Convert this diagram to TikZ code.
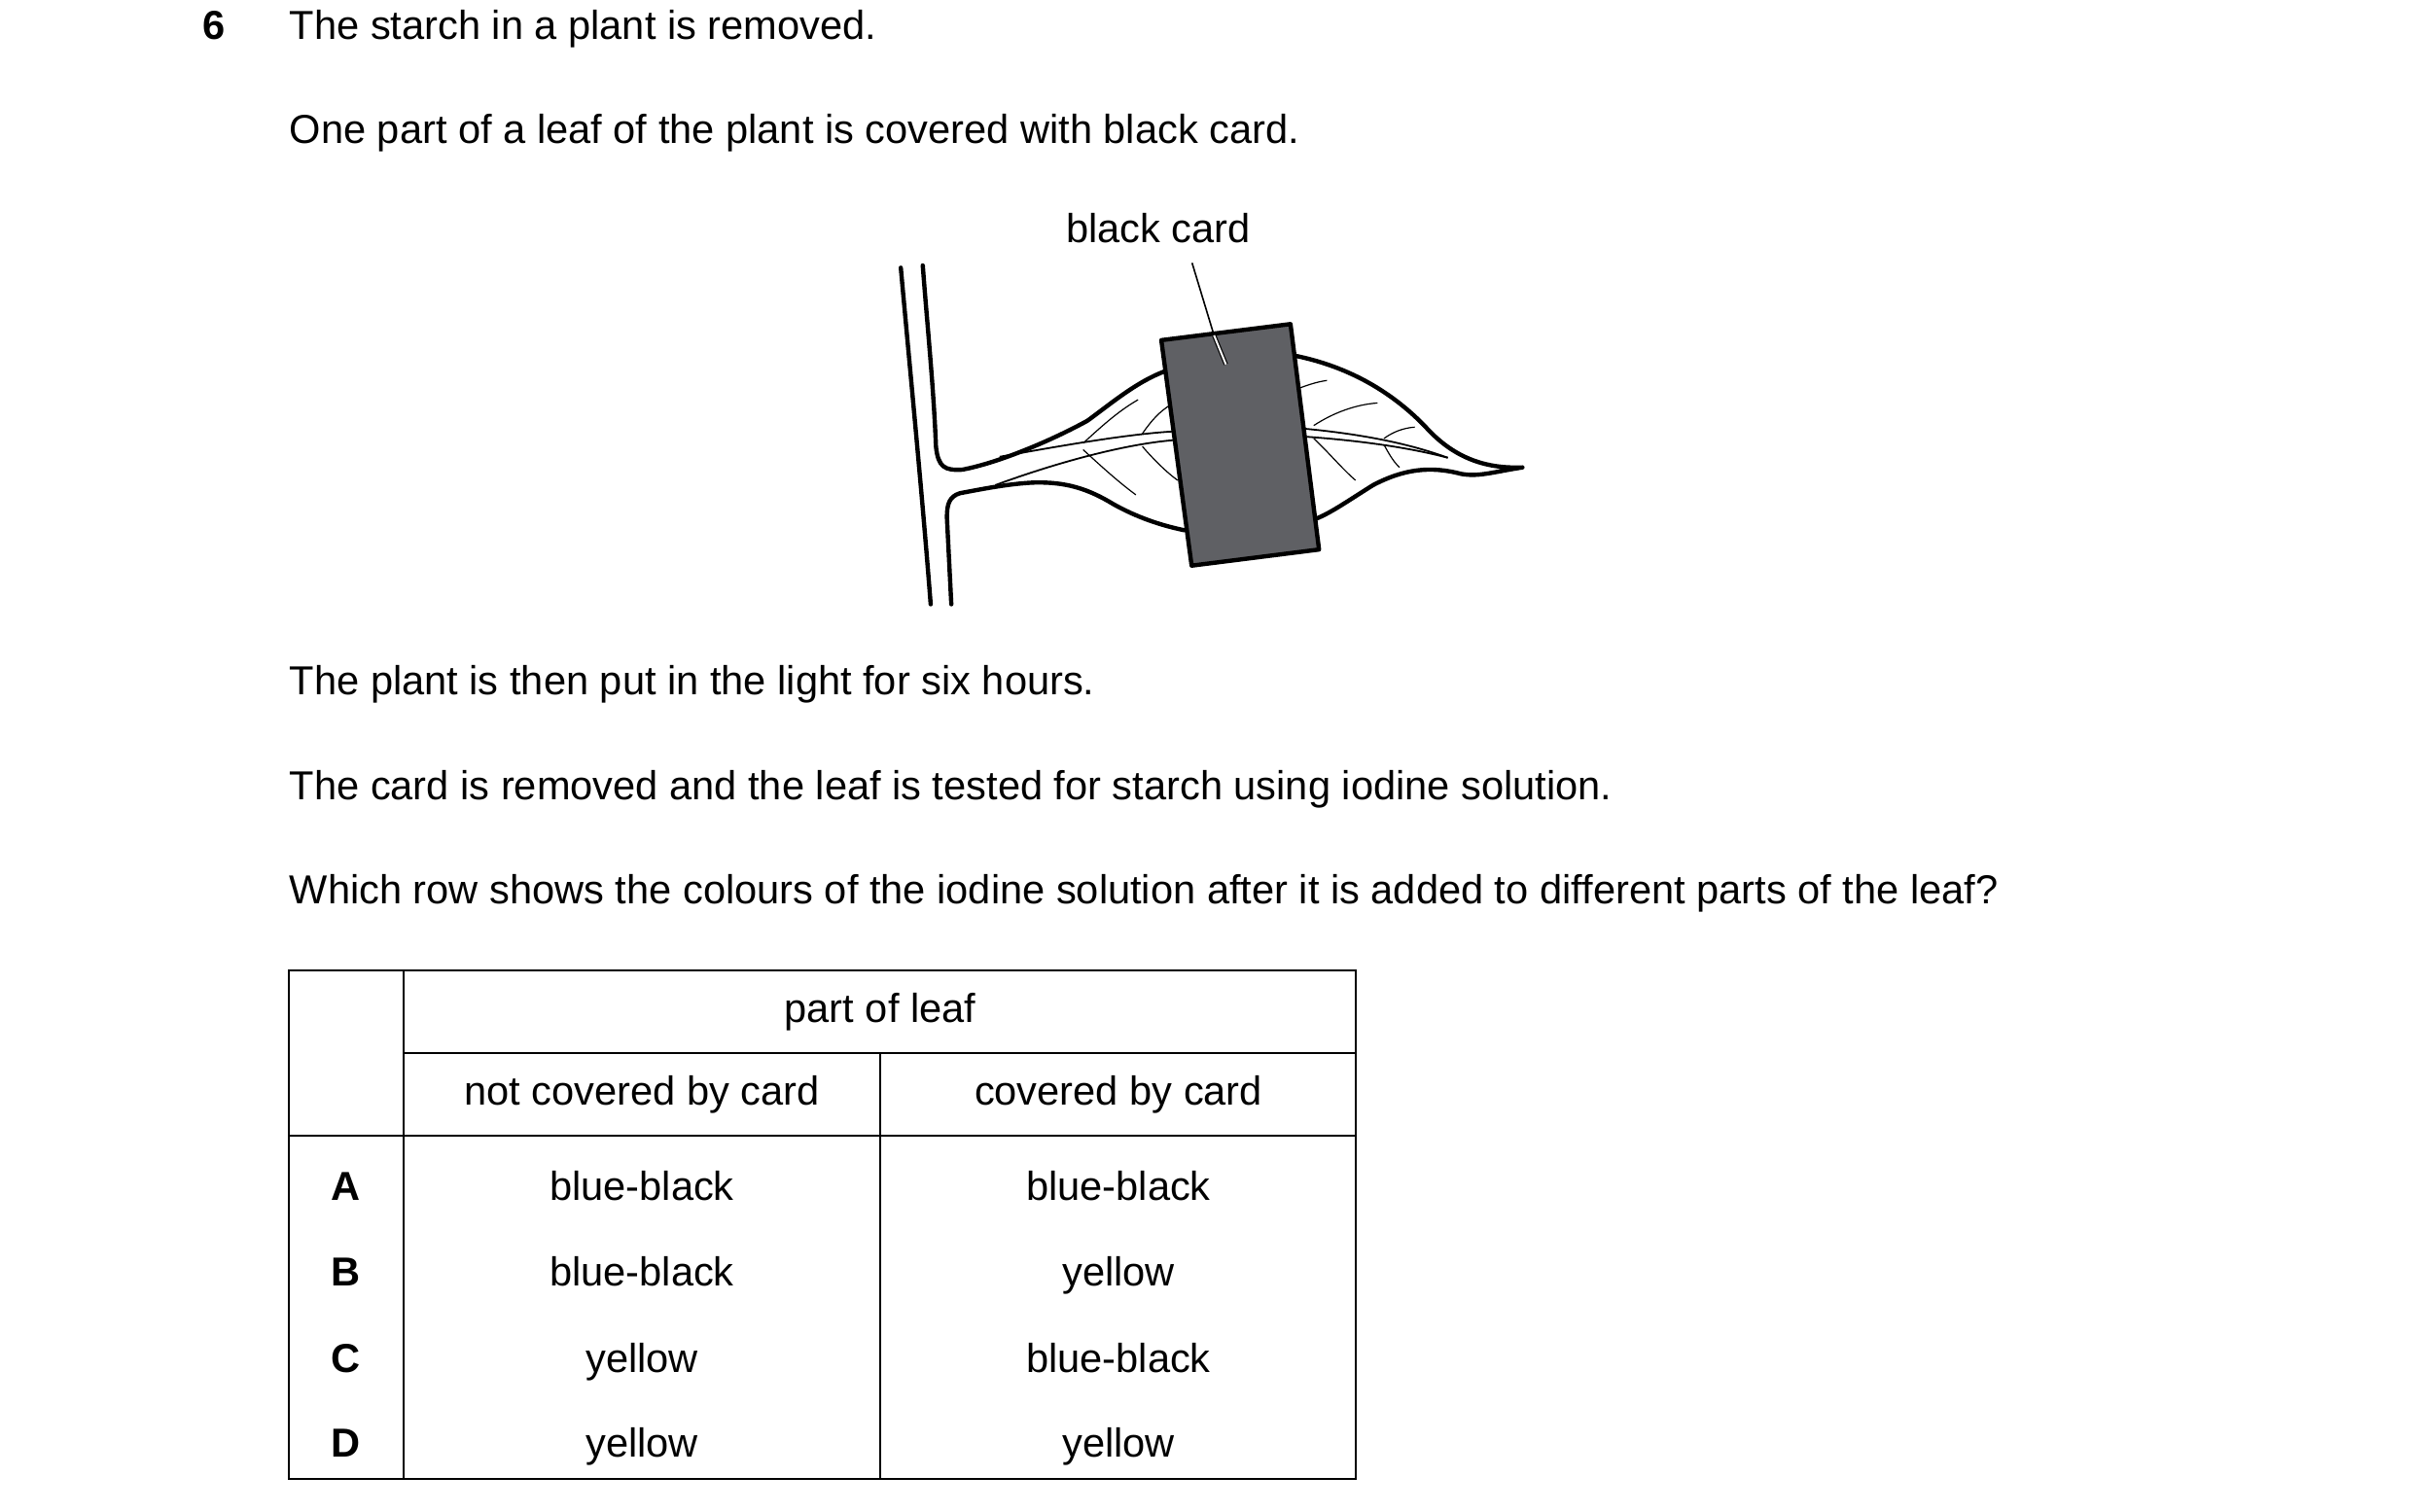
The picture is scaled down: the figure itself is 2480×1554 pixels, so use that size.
\documentclass[tikz,border=0pt]{standalone}
\usepackage{fontspec}
\setmainfont{Liberation Sans}
\begin{document}
\begin{tikzpicture}[x=0.25pt,y=-0.25pt,
  txt/.style={anchor=base west,inner sep=0,font=\fontsize{10.4}{12}\selectfont},
  ctr/.style={anchor=base,inner sep=0,font=\fontsize{10.4}{12}\selectfont},
  bd/.style={line width=1.1pt,line cap=round,line join=round},
  vein/.style={line width=0.3pt},
  rib/.style={line width=0.45pt},
  grid/.style={line width=0.6pt}]
\useasboundingbox (0,0) rectangle (2480,1554);
\node[txt,font=\fontsize{10.4}{12}\selectfont\bfseries] (num) at (208,40) {6};
\node[txt] (t1) at (297,40) {The starch in a plant is removed.};
\node[txt] (t2) at (297,147) {One part of a leaf of the plant is covered with black card.};
\node[ctr] (lab) at (1191,249) {black card};
\node[txt] (t3) at (297,714) {The plant is then put in the light for six hours.};
\node[txt] (t4) at (297,822) {The card is removed and the leaf is tested for starch using iodine solution.};
\node[txt] (t5) at (297,929) {Which row shows the colours of the iodine solution after it is added to different parts of the leaf?};
% leaf
\begin{scope}[shift={(892.3,233.9)},xscale=0.4517,yscale=0.33125]
\draw[bd] (75,125) .. controls (100,500) and (125,850) .. (143,1170);
\draw[bd] (125,118) .. controls (135,300) and (150,500) .. (155,680) .. controls (160,745) and (175,755) .. (215,752)
  .. controls (300,730) and (420,660) .. (500,600) .. controls (560,540) and (620,470) .. (690,440)
  -- (960,395) .. controls (1100,430) and (1200,520) .. (1270,620) .. controls (1330,710) and (1400,750) .. (1490,745)
  .. controls (1420,760) and (1390,775) .. (1350,765) .. controls (1280,740) and (1220,750) .. (1150,800)
  .. controls (1080,860) and (1050,890) .. (1010,910) -- (720,940) .. controls (650,920) and (600,890) .. (560,860)
  .. controls (500,810) and (450,790) .. (380,792) .. controls (320,795) and (250,815) .. (210,825)
  .. controls (185,835) and (180,860) .. (180,900) -- (190,1170);
\draw[rib] (300,712) .. controls (450,675) and (600,640) .. (700,633) -- (995,625) .. controls (1150,645) and (1250,680) .. (1320,715);
\draw[rib] (290,800) .. controls (450,720) and (600,670) .. (700,660) -- (1000,650) .. controls (1150,665) and (1250,690) .. (1320,715);
\draw[vein] (490,670) .. controls (530,620) and (570,570) .. (615,535);
\draw[vein] (490,690) .. controls (530,740) and (570,790) .. (610,830);
\draw[vein] (625,640) .. controls (645,600) and (665,570) .. (690,550);
\draw[vein] (625,680) .. controls (650,720) and (680,760) .. (705,785);
\draw[vein] (980,500) .. controls (1000,490) and (1020,480) .. (1045,475);
\draw[vein] (1015,615) .. controls (1060,575) and (1110,550) .. (1160,545);
\draw[vein] (1015,655) .. controls (1050,700) and (1080,750) .. (1110,785);
\draw[vein] (1175,655) .. controls (1195,635) and (1220,622) .. (1245,620);
\draw[vein] (1175,675) .. controls (1185,700) and (1195,725) .. (1210,745);
\draw[bd,fill={rgb,255:red,95;green,96;blue,100}] (668,350) -- (962,300) -- (1027,1000) -- (737,1050) -- cycle;
\coordinate (l1) at (738,110);
\coordinate (l2) at (788,335);
\coordinate (l3) at (815,425);
\draw[line width=0.4pt] (l1) -- (l2);
\draw[line width=0.3pt,double=white,double distance=0.5pt] (l2) -- (l3);
\end{scope}
% table
\draw[grid] (297,998) rectangle (1394,1521);
\draw[grid] (415,998) -- (415,1521);
\draw[grid] (905,1083) -- (905,1521);
\draw[grid] (415,1083) -- (1394,1083);
\draw[grid] (297,1168) -- (1394,1168);
\node[ctr] (h0) at (905,1051) {part of leaf};
\node[ctr] (h1) at (660,1136) {not covered by card};
\node[ctr] (h2) at (1150,1136) {covered by card};
\foreach \l/\a/\b/\y in {A/blue-black/blue-black/1234,B/blue-black/yellow/1322,C/yellow/blue-black/1411,D/yellow/yellow/1498}{
  \node[ctr,font=\fontsize{10.4}{12}\selectfont\bfseries] (r\l) at (356,\y) {\l};
  \node[ctr] (a\l) at (660,\y) {\a};
  \node[ctr] (b\l) at (1150,\y) {\b};
}
\end{tikzpicture}
\end{document}
